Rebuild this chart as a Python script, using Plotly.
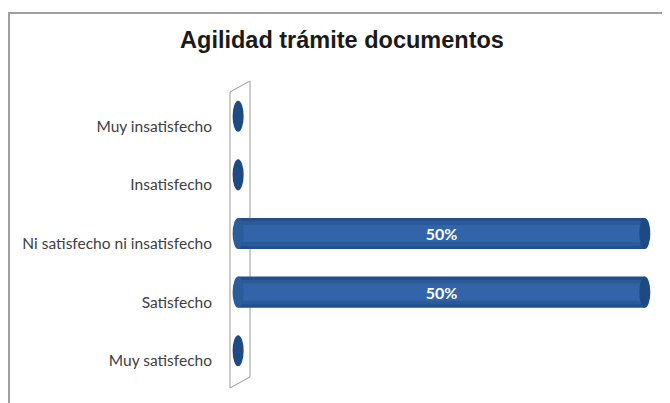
import plotly.graph_objects as go

categories = ["Muy insatisfecho", "Insatisfecho", "Ni satisfecho ni insatisfecho", "Satisfecho", "Muy satisfecho"]
values = [0, 0, 50, 50, 0]
labels = ["", "", "50%", "50%", ""]
title = "Agilidad trámite documentos"

W, H = 670, 403
OFF = 8  # page body margin
L, R, T, B = 222, 21, 73, 25
pw, ph = W - L - R, H - T - B

ypos = list(range(len(categories) - 1, -1, -1))  # top to bottom
bw = 0.53

fig = go.Figure()
fig.add_trace(go.Bar(y=ypos, x=values, orientation="h", width=bw,
                     marker=dict(color="#224F8B", line=dict(width=0)), hoverinfo="skip"))
fig.add_trace(go.Bar(y=ypos, x=values, orientation="h", width=bw * 0.8,
                     marker=dict(color="#2A5A9A", line=dict(width=0)), hoverinfo="skip"))
fig.add_trace(go.Bar(y=ypos, x=values, orientation="h", width=bw * 0.55,
                     marker=dict(color="#3164A8", line=dict(width=0)), hoverinfo="skip",
                     text=labels, textposition="inside", insidetextanchor="middle",
                     textfont=dict(color="white", size=16, family="Lato", weight="bold"),
                     constraintext="none"))

shapes = []


def px_to_paper(px, py):
    # page pixel -> paper coords
    return (px - OFF - L) / pw, (H - B - (py - OFF)) / ph


wall = [(230, 92), (250, 81), (250, 377), (230, 388)]
pts = [px_to_paper(*p) for p in wall]
path = "M " + " L ".join(f"{x},{y}" for x, y in pts) + " Z"
shapes.append(dict(type="path", xref="paper", yref="paper", path=path,
                   line=dict(color="#9A9A9A", width=1), fillcolor="rgba(255,255,255,0)", layer="below"))

cap = 0.68
for yv, v in zip(ypos, values):
    shapes.append(dict(type="circle", xref="x", yref="y", x0=-cap, x1=cap,
                       y0=yv - bw / 2, y1=yv + bw / 2,
                       fillcolor="#2B5C9C" if v > 0 else "#1F4B85", line=dict(width=0), layer="above"))
    if v > 0:
        shapes.append(dict(type="circle", xref="x", yref="y", x0=v - cap, x1=v + cap,
                           y0=yv - bw / 2, y1=yv + bw / 2,
                           fillcolor="#1E4A82", line=dict(width=0), layer="above"))

fx0, fy0 = px_to_paper(9, 13)
fx1, fy1 = px_to_paper(690, 430)
shapes.append(dict(type="rect", xref="paper", yref="paper", x0=fx0, y0=fy1, x1=fx1, y1=fy0,
                   line=dict(color="#A0A0A0", width=2), layer="below"))

fig.update_layout(
    width=W, height=H,
    margin=dict(l=L, r=R, t=T, b=B),
    paper_bgcolor="white", plot_bgcolor="white",
    barmode="overlay", showlegend=False,
    title=dict(text=f"<b>{title}</b>", x=(342 - OFF) / W, xanchor="center",
               y=1 - (40 - OFF) / H, yanchor="middle", yref="container",
               font=dict(family="Liberation Sans", size=23.5, color="#1A1A1A")),
    xaxis=dict(range=[-1, 51.5], visible=False),
    yaxis=dict(range=[-0.6, len(categories) - 1 + 0.6], tickvals=ypos, ticktext=categories,
               showgrid=False, zeroline=False, showline=False, ticks="",
               ticklabelstandoff=17, ticklabelshift=10,
               tickfont=dict(family="Lato", size=15.5, color="#404040")),
    shapes=shapes,
)

fig.write_html("out.html")
